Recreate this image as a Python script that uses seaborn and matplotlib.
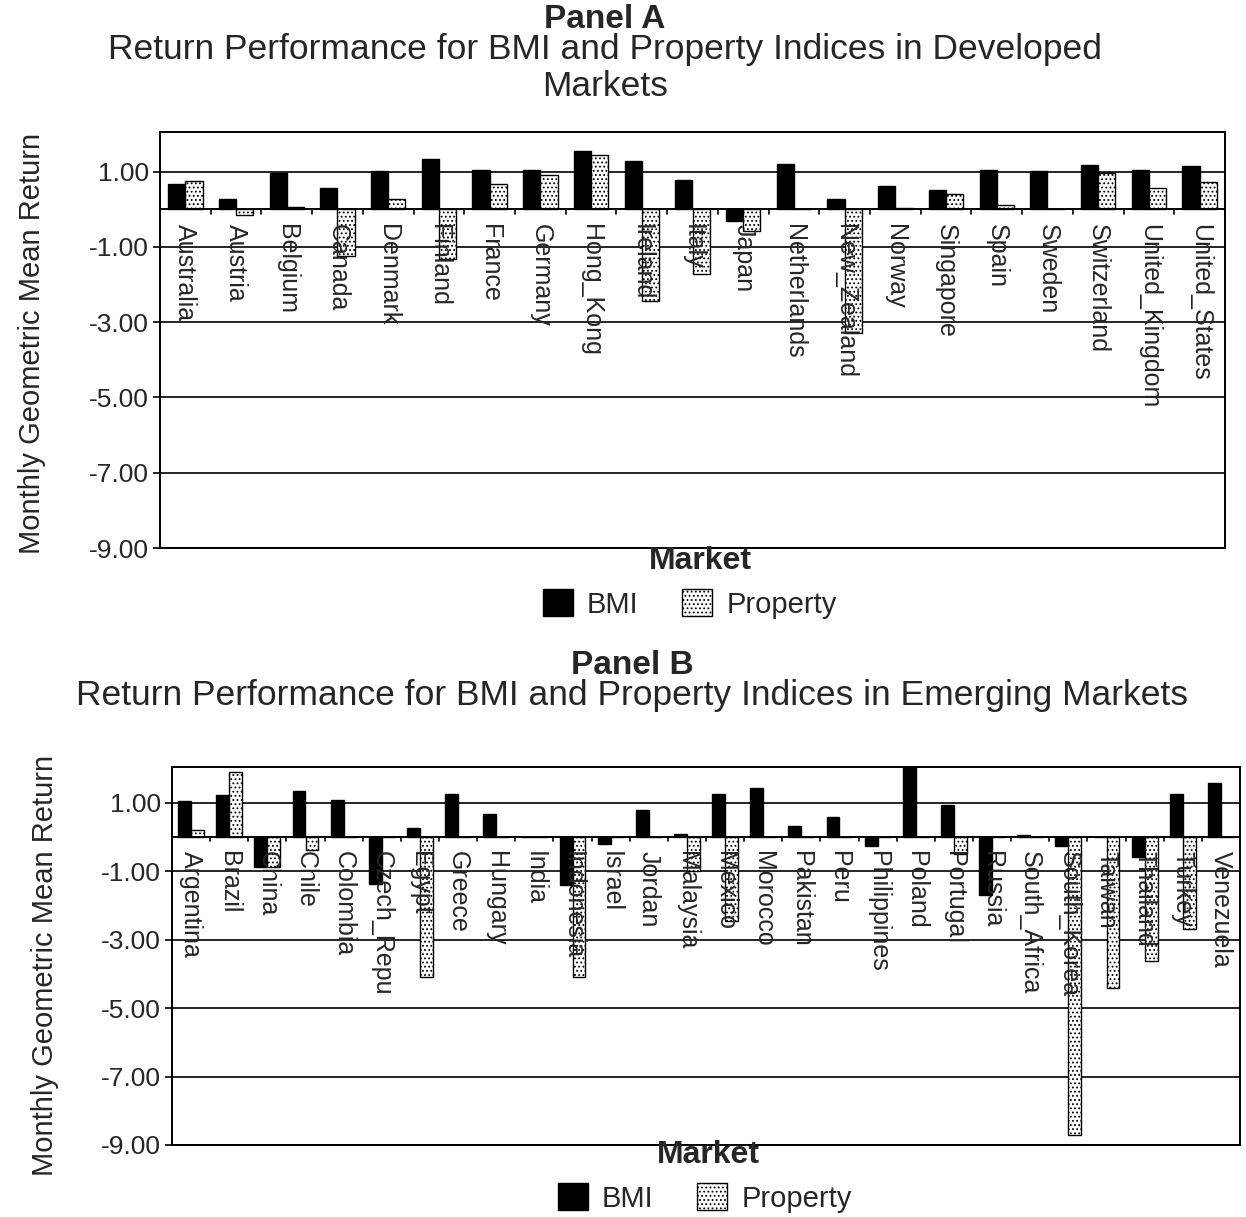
import matplotlib
matplotlib.use("Agg")
import matplotlib.pyplot as plt
import seaborn as sns
import pandas as pd
from matplotlib.patches import Patch

# ---------------- data ----------------
dev_markets = ["Australia", "Austria", "Belgium", "Canada", "Denmark", "Finland", "France",
               "Germany", "Hong_Kong", "Ireland", "Italy", "Japan", "Netherlands",
               "New_Zealand", "Norway", "Singapore", "Spain", "Sweden", "Switzerland",
               "United_Kingdom", "United_States"]
dev_bmi = [0.68, 0.28, 0.97, 0.55, 1.02, 1.32, 1.04, 1.05, 1.54, 1.29, 0.77, -0.32, 1.19,
           0.28, 0.62, 0.50, 1.03, 1.02, 1.18, 1.03, 1.14]
dev_prop = [0.75, -0.15, 0.06, -1.24, 0.28, -1.33, 0.67, 0.92, 1.45, -2.44, -1.72, -0.57, 0.0,
            -3.28, 0.04, 0.40, 0.10, 0.0, 0.95, 0.56, 0.72]

em_markets = ["Argentina", "Brazil", "China", "Chile", "Colombia", "Czech_Repu", "Egypt",
              "Greece", "Hungary", "India", "Indonesia", "Israel", "Jordan", "Malaysia",
              "Mexico", "Morocco", "Pakistan", "Peru", "Philippines", "Poland", "Portugal",
              "Russia", "South_Africa", "South_Korea", "Taiwan", "Thailand", "Turkey",
              "Venezuela"]
em_bmi = [1.05, 1.24, -0.86, 1.34, 1.08, -1.36, 0.28, 1.27, 0.69, 0.0, -1.41, -0.19, 0.78,
          0.08, 1.25, 1.43, 0.33, 0.59, -0.25, 2.08, 0.95, -1.70, 0.05, -0.25, 0.0, -0.59,
          1.27, 1.59]
em_prop = [0.22, 1.90, -0.86, -0.37, 0.0, 0.0, -4.08, 0.0, 0.0, 0.0, -4.10, 0.0, 0.0,
           -1.00, -2.45, 0.0, 0.0, 0.0, 0.0, 0.0, -0.50, 0.0, 0.0, -8.70, -4.42, -3.62,
           -2.70, 0.0]

yticks = [1, -1, -3, -5, -7, -9]
series = ["BMI", "Property"]

# ---------------- style ----------------
sns.set_style("white")
plt.rcParams["font.family"] = ["Liberation Sans", "DejaVu Sans"]
plt.rcParams["axes.unicode_minus"] = False
plt.rcParams["hatch.linewidth"] = 0.8

W, H = 1246, 1217
fig = plt.figure(figsize=(W / 100, H / 100), dpi=100)


def panel(rect, markets, bmi, prop, lab_size):
    ax = fig.add_axes(rect)
    df = pd.DataFrame({
        "Market": markets * 2,
        "Index": ["BMI"] * len(markets) + ["Property"] * len(markets),
        "Return": bmi + prop,
    })
    sns.barplot(data=df, x="Market", y="Return", hue="Index", hue_order=series,
                order=markets, palette=["black", "white"], width=0.68,
                edgecolor="black", linewidth=1.0, legend=False, ax=ax, zorder=3)
    for bar in ax.containers[1]:
        bar.set_hatch("....")
        bar.set_facecolor("white")
        bar.set_edgecolor("black")
    ax.set_ylim(-9, 2.05)
    ax.set_xlim(-0.5, len(markets) - 0.5)
    ax.set_yticks(yticks)
    ax.set_yticklabels([f"{v:.2f}" for v in yticks], fontsize=19)
    for v in yticks:
        ax.axhline(v, color="black", lw=1.2, zorder=1)
    ax.axhline(0, color="black", lw=1.4, zorder=4)
    # small tick marks on the zero line between categories
    for i in range(len(markets) + 1):
        ax.plot([i - 0.5, i - 0.5], [0, -0.12], color="black", lw=1.2, zorder=4)
    ax.set_xticks([])
    ax.set_xlabel("")
    ax.set_ylabel("")
    for i, m in enumerate(markets):
        ax.text(i, -0.4, m, rotation=270, ha="center", va="top",
                fontsize=lab_size, zorder=5)
    for s in ax.spines.values():
        s.set_color("black")
        s.set_linewidth(1.4)
    ax.tick_params(axis="y", length=5, width=1.2, color="black", left=True, pad=3)
    return ax


axA = panel([160 / W, 1 - 548 / H, (1225 - 160) / W, (548 - 132) / H],
            dev_markets, dev_bmi, dev_prop, 18)
axB = panel([172 / W, 1 - 1145 / H, (1240 - 172) / W, (1145 - 767) / H],
            em_markets, em_bmi, em_prop, 18)

# ---------------- text ----------------
fig.text(605 / W, 1 - 19 / H, "Panel A", ha="center", va="center",
         fontsize=24, fontweight="bold")
fig.text(605 / W, 1 - 68 / H,
         "Return Performance for BMI and Property Indices in Developed\nMarkets",
         ha="center", va="center", fontsize=25.5, linespacing=1.15)
fig.text(632 / W, 1 - 666 / H, "Panel B", ha="center", va="center",
         fontsize=24, fontweight="bold")
fig.text(632 / W, 1 - 696 / H,
         "Return Performance for BMI and Property Indices in Emerging Markets",
         ha="center", va="center", fontsize=25.5)

fig.text(700 / W, 1 - 561 / H, "Market", ha="center", va="center",
         fontsize=23, fontweight="bold")
fig.text(708 / W, 1 - 1155 / H, "Market", ha="center", va="center",
         fontsize=23, fontweight="bold")

fig.text(32 / W, 1 - 343 / H, "Monthly Geometric Mean Return", rotation=90,
         ha="center", va="center", fontsize=21)
fig.text(45 / W, 1 - 965 / H, "Monthly Geometric Mean Return", rotation=90,
         ha="center", va="center", fontsize=21)

handles = [Patch(facecolor="black", edgecolor="black", label="BMI"),
           Patch(facecolor="white", edgecolor="black", hatch="....", label="Property")]
for cx, cy in [(690, 604), (705, 1198)]:
    fig.legend(handles=handles, loc="center", bbox_to_anchor=(cx / W, 1 - cy / H),
               ncol=2, frameon=False, fontsize=21, handlelength=1.0, handleheight=1.0,
               columnspacing=1.5, handletextpad=0.5)

fig.savefig("out.png", dpi=100)
